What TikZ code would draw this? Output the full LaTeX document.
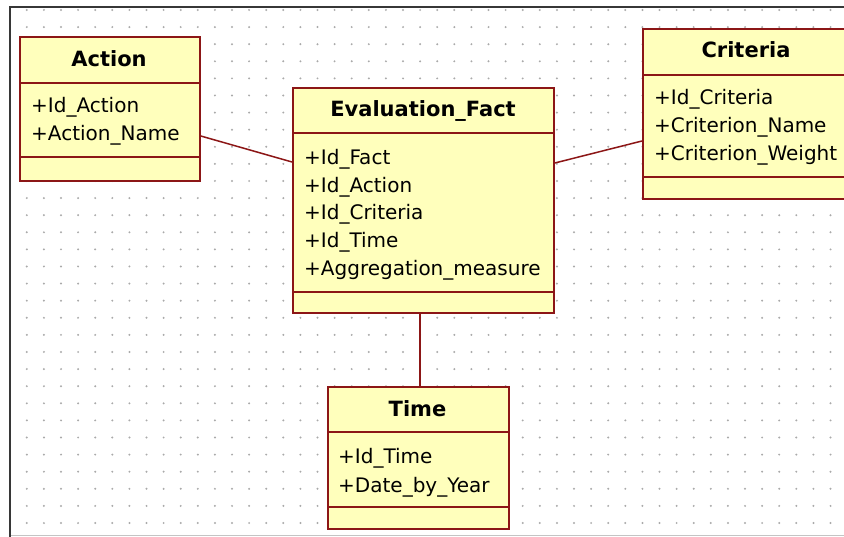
\documentclass[tikz,border=0pt]{standalone}
\usepackage{fontspec}
\setmainfont{DejaVu Sans}
\definecolor{umlred}{RGB}{140,22,22}
\definecolor{umlfill}{RGB}{255,255,188}
\definecolor{griddot}{RGB}{170,170,170}
\definecolor{frame}{RGB}{55,55,55}
\begin{document}
\begin{tikzpicture}[x=1pt,y=-1pt,
  classbox/.style={draw=umlred,fill=umlfill,line width=1.8pt,inner sep=0pt,anchor=north west},
  sepline/.style={draw=umlred,line width=1.6pt},
  assoc/.style={draw=umlred,line width=1.5pt},
  classname/.style={font=\fontsize{21}{25}\selectfont\bfseries,anchor=base,inner sep=0pt},
  attr/.style={font=\fontsize{20}{24}\selectfont,anchor=base west,inner sep=0pt}]
\useasboundingbox (0,0) rectangle (844,537);
\clip (0,0) rectangle (844,537);
\fill[white] (0,0) rectangle (844,537);

% dotted drawing grid
\begin{scope}
\clip (11,9) rectangle (844,533);
\foreach \i in {0,...,48}{
  \foreach \j in {0,...,31}{
    \fill[griddot] ({26.8+17.1*\i},{10+17.1*\j}) circle (1.1);
  }
}
\end{scope}

% canvas frame
\draw[frame,line width=2.4pt] (10,537) -- (10,7) -- (844,7);
\draw[griddot!70,line width=1.2pt] (11,535.5) -- (844,535.5);

% Action
\node[classbox,minimum width=180pt,minimum height=144pt] (action) at (19,36) {};
\draw[sepline] (19,83) -- (199,83);
\draw[sepline] (19,157) -- (199,157);
\node[classname] (actionT) at (109,67) {Action};
\node[attr] (action1) at (31,113) {+Id\_Action};
\node[attr] (action2) at (31,141) {+Action\_Name};

% Evaluation_Fact
\node[classbox,minimum width=261pt,minimum height=225pt] (eval) at (292,87) {};
\draw[sepline] (292,133) -- (553,133);
\draw[sepline] (292,292) -- (553,292);
\node[classname] (evalT) at (423,117) {Evaluation\_Fact};
\node[attr] (eval1) at (304,165) {+Id\_Fact};
\node[attr] (eval2) at (304,193) {+Id\_Action};
\node[attr] (eval3) at (304,220) {+Id\_Criteria};
\node[attr] (eval4) at (304,248) {+Id\_Time};
\node[attr] (eval5) at (304,276) {+Aggregation\_measure};

% Criteria
\node[classbox,minimum width=208pt,minimum height=170pt] (crit) at (642,28) {};
\draw[sepline] (642,75) -- (850,75);
\draw[sepline] (642,177) -- (850,177);
\node[classname] (critT) at (746,58) {Criteria};
\node[attr] (crit1) at (654,105) {+Id\_Criteria};
\node[attr] (crit2) at (654,133) {+Criterion\_Name};
\node[attr] (crit3) at (654,161) {+Criterion\_Weight};

% Time
\node[classbox,minimum width=181pt,minimum height=142pt] (time) at (327,386) {};
\draw[sepline] (327,432) -- (508,432);
\draw[sepline] (327,507) -- (508,507);
\node[classname] (timeT) at (417.5,417) {Time};
\node[attr] (time1) at (338,463) {+Id\_Time};
\node[attr] (time2) at (338,492) {+Date\_by\_Year};

% associations
\draw[assoc] ([yshift=-100pt]action.north east) -- ([yshift=-75pt]eval.north west);
\draw[assoc] ([yshift=-76pt]eval.north east) -- ([yshift=-113pt]crit.north west);
\draw[assoc] (eval.south -| 420,0) -- (time.north -| 420,0);
\end{tikzpicture}
\end{document}
